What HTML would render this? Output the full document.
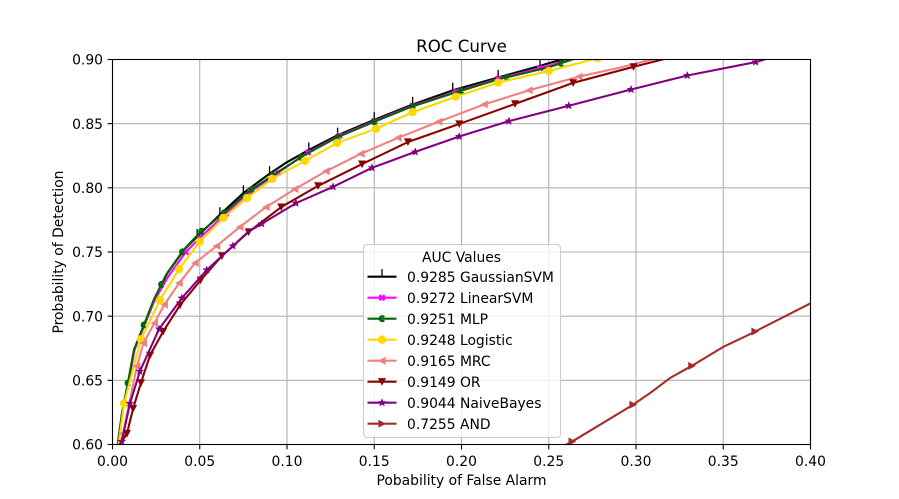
<!DOCTYPE html>
<html lang="en">
<head>
<meta charset="utf-8">
<title>ROC Curve</title>
<style>
html,body{margin:0;padding:0;background:#fff;width:899px;height:499px;overflow:hidden}
svg{display:block}
text{font-family:"DejaVu Sans","Liberation Sans",sans-serif;fill:#000}
</style>
</head>
<body>
<svg id="chart" width="899" height="499" viewBox="0 0 899 499" xmlns="http://www.w3.org/2000/svg">
<defs><clipPath id="plot-clip"><rect x="112.5" y="59.5" width="698" height="385"/></clipPath></defs>
<rect width="899" height="499" fill="#fff"/>
<g id="grid"></g>
<g id="curves" clip-path="url(#plot-clip)"></g>
<g id="axes"></g>
<text x="461.5" y="52" font-size="16.67" text-anchor="middle">ROC Curve</text>
<text x="461.5" y="485" font-size="13.89" text-anchor="middle">Pobability of False Alarm</text>
<text transform="translate(63 252) rotate(-90)" font-size="13.89" text-anchor="middle">Probability of Detection</text>
<g id="legend"></g>
</svg>
<script>
const xTicks = [0, 0.05, 0.10, 0.15, 0.20, 0.25, 0.30, 0.35, 0.40];
const xTickLabels = ['0.00', '0.05', '0.10', '0.15', '0.20', '0.25', '0.30', '0.35', '0.40'];
const yTicks = [0.60, 0.65, 0.70, 0.75, 0.80, 0.85, 0.90];
const yTickLabels = ['0.60', '0.65', '0.70', '0.75', '0.80', '0.85', '0.90'];

const gaussianFpr = [0.003, 0.0055, 0.0092, 0.0124, 0.0195, 0.0238, 0.0312, 0.0412, 0.0485, 0.0615, 0.075, 0.09, 0.1, 0.1125, 0.129, 0.15, 0.172, 0.195, 0.221, 0.245, 0.262];
const gaussianTpr = [0.6, 0.625, 0.65, 0.674, 0.698, 0.7126, 0.733, 0.752, 0.762, 0.779, 0.796, 0.811, 0.82, 0.8295, 0.841, 0.853, 0.865, 0.876, 0.886, 0.895, 0.902];
const gaussianMarks = [0.0485, 0.0615, 0.075, 0.09, 0.1125, 0.129, 0.15, 0.172, 0.195, 0.221, 0.245];

const linearFpr = [0.003, 0.0056, 0.0094, 0.0127, 0.0198, 0.0242, 0.032, 0.042, 0.05, 0.0635, 0.077, 0.092, 0.11, 0.129, 0.15, 0.172, 0.197, 0.221, 0.25, 0.264];
const linearTpr = [0.6, 0.625, 0.65, 0.674, 0.698, 0.7126, 0.731, 0.75, 0.761, 0.778, 0.795, 0.809, 0.826, 0.84, 0.852, 0.864, 0.875, 0.885, 0.895, 0.902];
const linearMarks = [0.042, 0.05, 0.065, 0.079, 0.095, 0.112, 0.13, 0.15, 0.172, 0.197, 0.221, 0.245];

const mlpFpr = [0.003, 0.0055, 0.0091, 0.0123, 0.0194, 0.0236, 0.031, 0.041, 0.05, 0.0635, 0.077, 0.092, 0.11, 0.129, 0.15, 0.172, 0.197, 0.221, 0.25, 0.268];
const mlpTpr = [0.6, 0.625, 0.65, 0.6737, 0.698, 0.7126, 0.733, 0.752, 0.765, 0.78, 0.796, 0.81, 0.8255, 0.8395, 0.8515, 0.8635, 0.8745, 0.8845, 0.894, 0.902];
const mlpMarks = [0.0088, 0.018, 0.028, 0.04, 0.051, 0.064, 0.08, 0.0915, 0.108, 0.129, 0.15, 0.172, 0.2, 0.226, 0.257];

const logisticFpr = [0.0035, 0.0066, 0.0163, 0.0272, 0.0381, 0.05, 0.0635, 0.0771, 0.0915, 0.1103, 0.1287, 0.151, 0.172, 0.1967, 0.221, 0.25, 0.278];
const logisticTpr = [0.6, 0.632, 0.682, 0.7125, 0.7367, 0.758, 0.7766, 0.792, 0.807, 0.821, 0.835, 0.846, 0.859, 0.871, 0.882, 0.891, 0.901];
const logisticMarks = [0.0066, 0.0163, 0.0272, 0.0381, 0.05, 0.0635, 0.0771, 0.0915, 0.1103, 0.1287, 0.151, 0.172, 0.1967, 0.221, 0.25, 0.278];

const mrcFpr = [0.0045, 0.006, 0.014, 0.0177, 0.024, 0.0297, 0.0382, 0.0473, 0.0597, 0.073, 0.088, 0.1045, 0.1224, 0.1424, 0.1637, 0.187, 0.213, 0.2387, 0.2673, 0.2908, 0.312];
const mrcTpr = [0.6, 0.6086, 0.661, 0.679, 0.6945, 0.709, 0.7258, 0.7414, 0.7547, 0.7695, 0.785, 0.799, 0.813, 0.8266, 0.839, 0.8516, 0.865, 0.876, 0.8867, 0.8937, 0.901];
const mrcMarks = [0.006, 0.014, 0.0177, 0.024, 0.0297, 0.0382, 0.0473, 0.0597, 0.073, 0.088, 0.1045, 0.1224, 0.1424, 0.1637, 0.187, 0.213, 0.2387, 0.2673];

const orFpr = [0.0043, 0.0083, 0.0118, 0.0163, 0.0215, 0.029, 0.0387, 0.0505, 0.0627, 0.078, 0.0967, 0.1178, 0.143, 0.1693, 0.1987, 0.2307, 0.264, 0.2986, 0.318];
const orTpr = [0.6, 0.6086, 0.628, 0.648, 0.6695, 0.688, 0.7086, 0.728, 0.7469, 0.7656, 0.785, 0.8015, 0.8185, 0.8357, 0.8498, 0.8654, 0.8818, 0.8943, 0.901];
const orMarks = [0.0083, 0.0118, 0.0163, 0.0215, 0.029, 0.0387, 0.0505, 0.0627, 0.078, 0.0967, 0.1178, 0.143, 0.1693, 0.1987, 0.2307, 0.264, 0.2986];

const naiveFpr = [0.004, 0.0053, 0.01, 0.0157, 0.0267, 0.0397, 0.054, 0.069, 0.0776, 0.0855, 0.1051, 0.1264, 0.1487, 0.1735, 0.1987, 0.2272, 0.2615, 0.2972, 0.3294, 0.3686, 0.376];
const naiveTpr = [0.6, 0.6023, 0.632, 0.657, 0.69, 0.714, 0.736, 0.7547, 0.7656, 0.772, 0.788, 0.8008, 0.8156, 0.828, 0.84, 0.852, 0.864, 0.8766, 0.8875, 0.898, 0.901];
const naiveMarks = [0.0053, 0.01, 0.0157, 0.0267, 0.0397, 0.054, 0.069, 0.0855, 0.1051, 0.1264, 0.1487, 0.1735, 0.1987, 0.2272, 0.2615, 0.2972, 0.3294, 0.3686];

const andFpr = [0.26, 0.2634, 0.2983, 0.308, 0.3195, 0.332, 0.3499, 0.3653, 0.4];
const andTpr = [0.6, 0.6023, 0.631, 0.64, 0.6518, 0.6613, 0.676, 0.686, 0.71];
const andMarks = [0.2634, 0.2983, 0.332, 0.3682];

const seriesNames = ['GaussianSVM', 'LinearSVM', 'MLP', 'Logistic', 'MRC', 'OR', 'NaiveBayes', 'AND'];
const aucValues = ['0.9285', '0.9272', '0.9251', '0.9248', '0.9165', '0.9149', '0.9044', '0.7255'];
const seriesFpr = [gaussianFpr, linearFpr, mlpFpr, logisticFpr, mrcFpr, orFpr, naiveFpr, andFpr];
const seriesTpr = [gaussianTpr, linearTpr, mlpTpr, logisticTpr, mrcTpr, orTpr, naiveTpr, andTpr];
const seriesMarks = [gaussianMarks, linearMarks, mlpMarks, logisticMarks, mrcMarks, orMarks, naiveMarks, andMarks];
const seriesColors = ['#000000', '#ff00ff', '#006400', '#ffd700', '#f08080', '#8b0000', '#800080', '#a52a2a'];
const seriesShapes = ['tick', 'x', 'c', 'circle', 'left', 'down', 'star', 'right'];

const NS = 'http://www.w3.org/2000/svg';
const xScale = v => 112.5 + (v - 0) / 0.4 * 698;
const yScale = v => 444.5 - (v - 0.6) / 0.3 * 385;

function make(tag, attrs, parent) {
  const el = document.createElementNS(NS, tag);
  for (const k in attrs) el.setAttribute(k, attrs[k]);
  parent.appendChild(el);
  return el;
}

function interp(xs, ys, x) {
  for (let i = 1; i < xs.length; i++) {
    if (x <= xs[i]) {
      const t = (x - xs[i - 1]) / (xs[i] - xs[i - 1]);
      return ys[i - 1] + t * (ys[i] - ys[i - 1]);
    }
  }
  return ys[ys.length - 1];
}

function drawMarker(shape, color, cx, cy, parent) {
  const t = 'translate(' + cx + ' ' + cy + ')';
  let el;
  if (shape === 'tick') {
    el = make('path', {d: 'M0 0V-7.6', stroke: color, 'stroke-width': 1.3, fill: 'none', transform: t}, parent);
  } else if (shape === 'x') {
    el = make('path', {d: 'M-1.7 -3.4L0 -1.7L1.7 -3.4L3.4 -1.7L1.7 0L3.4 1.7L1.7 3.4L0 1.7L-1.7 3.4L-3.4 1.7L-1.7 0L-3.4 -1.7Z', fill: color, transform: t}, parent);
  } else if (shape === 'c') {
    el = make('path', {d: 'M2.2 -1.6A2.5 2.5 0 1 0 2.2 1.6', stroke: color, 'stroke-width': 2.1, fill: 'none', transform: t}, parent);
  } else if (shape === 'circle') {
    el = make('circle', {r: 4.15, fill: color, transform: t}, parent);
  } else if (shape === 'left') {
    el = make('path', {d: 'M-4 0L3.6 -4V4Z', fill: color, transform: t}, parent);
  } else if (shape === 'right') {
    el = make('path', {d: 'M4 0L-3.6 -4V4Z', fill: color, transform: t}, parent);
  } else if (shape === 'down') {
    el = make('path', {d: 'M0 4L-4 -3.6H4Z', fill: color, transform: t}, parent);
  } else {
    el = make('path', {d: 'M0 -4L1 -1.3L3.8 -1.2L1.6 0.5L2.4 3.2L0 1.7L-2.4 3.2L-1.6 0.5L-3.8 -1.2L-1 -1.3Z', fill: color, stroke: color, 'stroke-width': 0.5, transform: t}, parent);
  }
  return el;
}

const grid = document.getElementById('grid');
const axes = document.getElementById('axes');
const curves = document.getElementById('curves');
const legend = document.getElementById('legend');

xTicks.forEach((v, i) => {
  const g = make('line', {x1: xScale(v), x2: xScale(v), y1: yScale(0.6), y2: yScale(0.9), stroke: '#b0b0b0', 'stroke-width': 1.1}, grid);
  
  
  const m = make('line', {x1: xScale(v), x2: xScale(v), y1: 444.5, y2: 449.4, stroke: '#000', 'stroke-width': 1.1}, axes);
  
  
  const l = make('text', {x: xScale(v), y: 466, 'font-size': 13.89, 'text-anchor': 'middle'}, axes);
  
  
  l.textContent = xTickLabels[i];
});

yTicks.forEach((v, i) => {
  const g = make('line', {x1: 112.5, x2: 810.5, y1: yScale(v), y2: yScale(v), stroke: '#b0b0b0', 'stroke-width': 1.1}, grid);
  
  
  const m = make('line', {x1: 107.6, x2: 112.5, y1: yScale(v), y2: yScale(v), stroke: '#000', 'stroke-width': 1.1}, axes);
  
  
  const l = make('text', {x: 103, y: yScale(v) + 5.2, 'font-size': 13.89, 'text-anchor': 'end'}, axes);
  
  
  l.textContent = yTickLabels[i];
});

const frame = make('rect', {x: 112.5, y: 59.5, width: 698, height: 385, fill: 'none', stroke: '#000', 'stroke-width': 1.1}, axes);



seriesNames.forEach((name, i) => {
  const xs = seriesFpr[i];
  const ys = seriesTpr[i];
  const g = make('g', {}, curves);
  
  
  const line = make('polyline', {
    points: xs.map((x, j) => xScale(x).toFixed(2) + ',' + yScale(ys[j]).toFixed(2)).join(' '),
    fill: 'none', stroke: seriesColors[i], 'stroke-width': 2.08, 'stroke-linejoin': 'round'
  }, g);
  
  
  seriesMarks[i].forEach(mx => {
    const mk = drawMarker(seriesShapes[i], seriesColors[i], xScale(mx), yScale(interp(xs, ys, mx)), g);
    
    
  });
});

const box = make('rect', {x: 363.5, y: 244.5, width: 197, height: 193, rx: 3.5, fill: 'rgba(255,255,255,0.8)', stroke: '#cccccc', 'stroke-width': 1.1}, legend);


const legendTitle = make('text', {x: 461.5, y: 262, 'font-size': 13.89, 'text-anchor': 'middle'}, legend);


legendTitle.textContent = 'AUC Values';

seriesNames.forEach((name, i) => {
  const rowY = 276.7 + i * 21;
  const g = make('g', {}, legend);
  
  
  const sw = make('line', {x1: 367.5, x2: 396.5, y1: rowY, y2: rowY, stroke: seriesColors[i], 'stroke-width': 2.08}, g);
  
  
  const mk = drawMarker(seriesShapes[i], seriesColors[i], 382, rowY, g);
  
  
  const t = make('text', {x: 407, y: rowY + 5.3, 'font-size': 13.89}, g);
  
  
  t.textContent = aucValues[i] + ' ' + name;
});
</script>
</body>
</html>
